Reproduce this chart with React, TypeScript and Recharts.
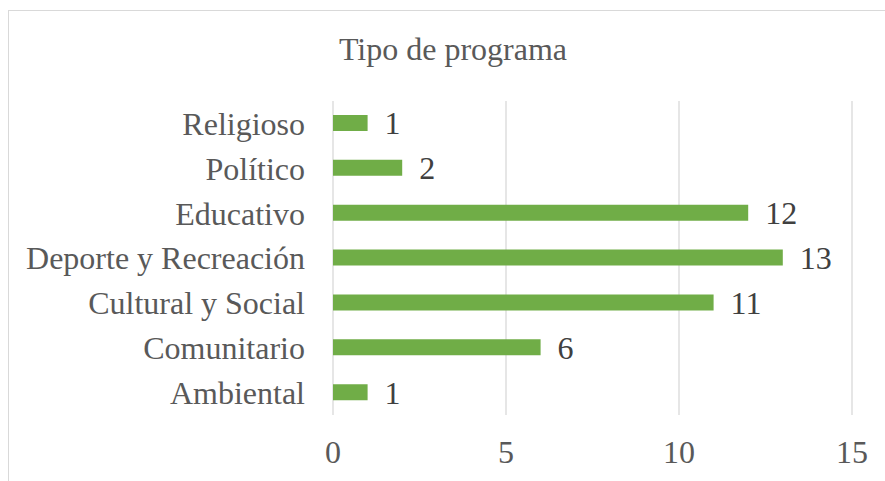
import React from "react";
import { BarChart, Bar, XAxis, YAxis, CartesianGrid, LabelList } from "recharts";

const categories = [
  "Religioso",
  "Político",
  "Educativo",
  "Deporte y Recreación",
  "Cultural y Social",
  "Comunitario",
  "Ambiental",
];
const values = [1, 2, 12, 13, 11, 6, 1];
const xTicks = [0, 5, 10, 15];
const title = "Tipo de programa";

const data = categories.map((name, i) => ({ name, value: values[i] }));

const W = 885;
const H = 481;
const FONT = "'Liberation Serif', 'Times New Roman', serif";

export default function App() {
  return (
    <div
      style={{
        position: "absolute",
        left: 0,
        top: 0,
        width: W,
        height: H,
        overflow: "hidden",
        background: "#ffffff",
      }}
    >
      <div
        style={{
          position: "absolute",
          left: 8,
          top: 10,
          width: 900,
          height: 500,
          border: "1.5px solid #d9d9d9",
          boxSizing: "border-box",
        }}
      />
      <div
        style={{
          position: "absolute",
          left: 8,
          top: 31,
          width: 890,
          textAlign: "center",
          fontFamily: FONT,
          fontSize: 32,
          lineHeight: "36px",
          color: "#595959",
        }}
      >
        {title}
      </div>
      <div style={{ position: "absolute", left: 0, top: 0 }}>
        <BarChart
          width={W}
          height={H}
          data={data}
          layout="vertical"
          margin={{ top: 101, right: 33, bottom: 26, left: 0 }}
          barCategoryGap={0}
        >
          <CartesianGrid horizontal={false} vertical={true} stroke="#d9d9d9" strokeWidth={1.3} />
          <XAxis
            type="number"
            domain={[0, 15]}
            ticks={xTicks}
            axisLine={false}
            tickLine={false}
            tickSize={0}
            tickMargin={25}
            height={40}
            interval={0}
            tick={{ fontFamily: FONT, fontSize: 32, fill: "#595959" }}
          />
          <YAxis
            type="category"
            dataKey="name"
            width={333}
            axisLine={false}
            tickLine={false}
            tickSize={0}
            tickMargin={28}
            interval={0}
            tick={{ fontFamily: FONT, fontSize: 32, fill: "#595959" }}
          />
          <Bar dataKey="value" fill="#70AD47" barSize={16} isAnimationActive={false}>
            <LabelList
              dataKey="value"
              position="right"
              offset={17}
              style={{ fontFamily: FONT, fontSize: 32, fill: "#404040" }}
            />
          </Bar>
        </BarChart>
      </div>
    </div>
  );
}
